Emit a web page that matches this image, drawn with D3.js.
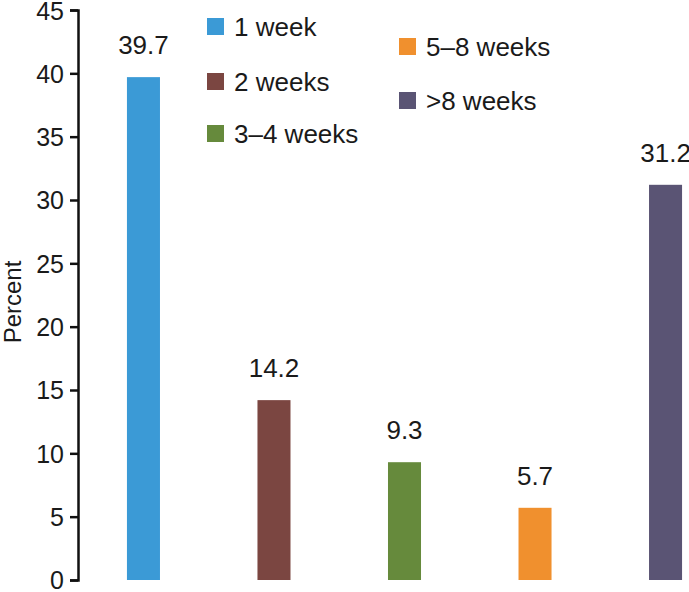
<!DOCTYPE html>
<html>
<head>
<meta charset="utf-8">
<script src="https://cdn.jsdelivr.net/npm/d3@7"></script>
<style>
  body { margin: 0; background: #fff; }
  text { font-family: "Liberation Sans", Arial, sans-serif; fill: #1a1a1a; }
</style>
</head>
<body>
<div id="chart"></div>
<script>
  // data
  var categories = ["1 week", "2 weeks", "3\u20134 weeks", "5\u20138 weeks", ">8 weeks"];
  var values = [39.7, 14.2, 9.3, 5.7, 31.2];
  var colors = ["#3b9ad6", "#7b4641", "#668a3c", "#f0902e", "#5a5474"];
  var yTicks = [0, 5, 10, 15, 20, 25, 30, 35, 40, 45];

  var width = 689, height = 592;

  var svg = d3.select("#chart")
      .append("svg")
      .attr("width", width)
      .attr("height", height);

  // x scale for the bars
  var x = d3.scaleBand()
      .domain(categories)
      .range([78, 731])
      .paddingInner(0.747)
      .paddingOuter(0.375);

  // y scale
  var y = d3.scaleLinear()
      .domain([0, 45])
      .range([580, 10]);

  // y axis
  var yAxis = svg.append("g")
      .attr("transform", "translate(78,0)")
      .call(d3.axisLeft(y).tickValues(yTicks).tickSize(8).tickPadding(6));
  yAxis.select(".domain").attr("stroke", "#111").attr("stroke-width", 2.5);
  yAxis.selectAll(".tick line").attr("stroke", "#111").attr("stroke-width", 2.5);
  yAxis.selectAll(".tick text")
      .attr("font-size", 25)
      .attr("dy", "0.35em")
      .attr("fill", "#1a1a1a")
      .style("font-family", "'Liberation Sans', Arial, sans-serif");
  // keep the top label inside the picture
  yAxis.selectAll(".tick text")
      .filter(function (d) { return d === 45; })
      .attr("dy", "0.38em");

  // axis title
  svg.append("text")
      .attr("transform", "translate(21,302) rotate(-90)")
      .attr("text-anchor", "middle")
      .attr("font-size", 24)
      .text("Percent");

  // bars
  svg.selectAll("rect.bar")
      .data(values)
      .enter()
      .append("rect")
      .attr("class", "bar")
      .attr("x", function (d, i) { return x(categories[i]); })
      .attr("y", function (d) { return y(d); })
      .attr("width", x.bandwidth())
      .attr("height", function (d) { return y(0) - y(d); })
      .attr("fill", function (d, i) { return colors[i]; });

  // value labels
  svg.selectAll("text.val")
      .data(values)
      .enter()
      .append("text")
      .attr("class", "val")
      .attr("x", function (d, i) { return x(categories[i]) + x.bandwidth() / 2; })
      .attr("y", function (d) { return y(d) - 23; })
      .attr("text-anchor", "middle")
      .attr("font-size", 26)
      .text(function (d) { return d.toFixed(1); });

  // legend, two columns
  var legendPos = [
      [207, 18], [207, 73], [207, 125],
      [399, 38], [399, 92]
  ];
  var legend = svg.selectAll("g.legend")
      .data(categories)
      .enter()
      .append("g")
      .attr("class", "legend")
      .attr("transform", function (d, i) {
          return "translate(" + legendPos[i][0] + "," + legendPos[i][1] + ")";
      });
  legend.append("rect")
      .attr("width", 17)
      .attr("height", 17)
      .attr("fill", function (d, i) { return colors[i]; });
  legend.append("text")
      .attr("x", 27)
      .attr("y", 18)
      .attr("font-size", 26)
      .text(function (d) { return d; });
</script>
</body>
</html>
